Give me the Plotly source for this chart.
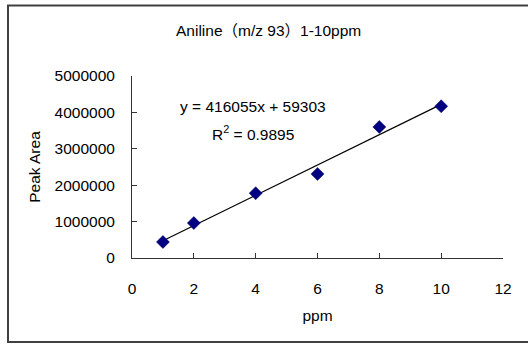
import plotly.graph_objects as go

ppm = [1, 2, 4, 6, 8, 10]
peak_area = [440000, 960000, 1780000, 2310000, 3600000, 4170000]
slope = 416055
intercept = 59303
r2 = 0.9895
x_ticks = [0, 2, 4, 6, 8, 10, 12]
y_ticks = [0, 1000000, 2000000, 3000000, 4000000, 5000000]

FONT = "Liberation Sans, Noto Sans CJK JP"
FS = 15.5
trend_x = [min(ppm), max(ppm)]
trend_y = [slope * v + intercept for v in trend_x]

fig = go.Figure()
fig.add_trace(go.Scatter(x=trend_x, y=trend_y, mode="lines",
                         line=dict(color="black", width=1.2), showlegend=False,
                         hoverinfo="skip"))
fig.add_trace(go.Scatter(x=ppm, y=peak_area, mode="markers",
                         marker=dict(symbol="diamond", size=10, color="#000080",
                                     line=dict(color="#000060", width=0.5)),
                         showlegend=False))

W, H = 528, 344
L, R, T, B = 132, 25, 76, 86
pw, ph = W - L - R, H - T - B

def px2paper_x(px):
    return (px - L) / pw

def px2paper_y(py):
    return (H - B - py) / ph

fig.update_layout(
    width=W, height=H,
    margin=dict(l=L, r=R, t=T, b=B),
    paper_bgcolor="white", plot_bgcolor="white",
    font=dict(family=FONT, size=FS, color="black"),
    xaxis=dict(range=[0, 12], tickvals=x_ticks, ticktext=[str(v) for v in x_ticks],
               showgrid=False, zeroline=False, showline=True, linecolor="#333333",
               linewidth=1, ticks="inside", ticklen=5, tickcolor="#333333",
               ticklabelstandoff=16,
               title=dict(text="ppm", font=dict(size=FS), standoff=14)),
    yaxis=dict(range=[0, 5000000], tickvals=y_ticks, ticktext=[str(v) for v in y_ticks],
               showgrid=False, zeroline=False, showline=True, linecolor="#333333",
               linewidth=1, ticks="inside", ticklen=5, tickcolor="#333333",
               ticklabelstandoff=13,
               title=dict(text="Peak Area", font=dict(size=FS), standoff=10)),
    annotations=[
        dict(text="Aniline（m/z 93）1-10ppm", xref="paper", yref="paper",
             x=px2paper_x(268), y=px2paper_y(30), showarrow=False,
             xanchor="center", yanchor="middle", font=dict(size=FS)),
        dict(text=f"y = {slope}x + {intercept}", xref="x", yref="y",
             x=3.9, y=4150000, showarrow=False, xanchor="center", yanchor="middle",
             font=dict(size=FS)),
        dict(text=f"R<sup>2</sup> = {r2}", xref="x", yref="y",
             x=3.9, y=3440000, showarrow=False, xanchor="center", yanchor="middle",
             font=dict(size=FS)),
    ],
    shapes=[dict(type="rect", xref="paper", yref="paper",
                 x0=px2paper_x(8), x1=px2paper_x(531),
                 y0=px2paper_y(342), y1=px2paper_y(5.5),
                 line=dict(color="#404040", width=2), layer="above")],
)

fig.write_html("out.html")
